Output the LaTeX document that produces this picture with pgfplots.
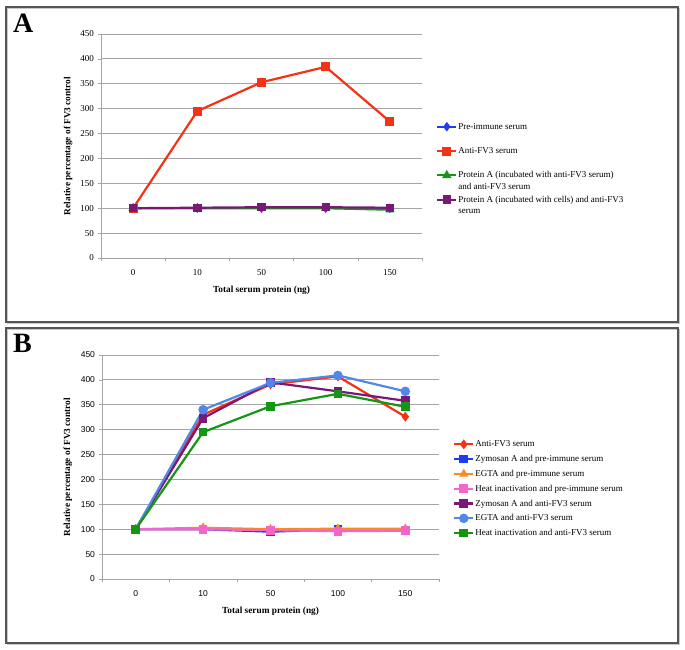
\documentclass[border=0pt]{standalone}
\usepackage{fontspec}
\setmainfont{Liberation Serif}
\newfontfamily\sansf{Liberation Sans}
\usepackage{pgfplots}
\pgfplotsset{compat=1.18}

\definecolor{frame}{RGB}{85,85,85}
\definecolor{shadow}{RGB}{200,200,200}
\definecolor{gridgray}{RGB}{165,165,165}
\definecolor{cRed}{RGB}{245,50,20}
\definecolor{cBlue}{RGB}{30,60,245}
\definecolor{cGreen}{RGB}{20,150,20}
\definecolor{cPurple}{RGB}{120,25,120}
\definecolor{cOrange}{RGB}{250,140,30}
\definecolor{cPink}{RGB}{245,100,200}
\definecolor{cLBlue}{RGB}{80,135,235}

\pgfplotsset{
  panel/.style={
    scale only axis,
    xmin=-0.5, xmax=4.5, ymin=0, ymax=450,
    xtick={-0.5,0.5,1.5,2.5,3.5,4.5},
    x tick label as interval,
    xticklabels={0,10,50,100,150},
    ytick={0,50,...,450},
    axis x line*=bottom, axis y line*=left,
    axis line style={draw=gridgray, line width=0.8pt},
    tick align=outside,
    major tick length=3.5pt,
    tick style={gridgray, line width=0.6pt},
    ymajorgrids, grid style={gridgray, line width=0.8pt},
    /pgf/number format/assume math mode=true,
    xticklabel style={yshift=-4.5pt},
    label style={font=\fontsize{9.3}{10}\selectfont\bfseries},
    xlabel={Total serum protein (ng)},
    ylabel={Relative percentage of FV3 control},
    xlabel style={at={(axis description cs:0.5,-0.1429)}, anchor=center},
    legend image code/.code={\draw[mark repeat=2,mark phase=2,##1] plot coordinates {(0pt,2.5pt)(9.5pt,2.5pt)(19pt,2.5pt)};},
    every axis plot/.append style={line width=2.2pt, mark options={solid}},
  }
}

\begin{document}
\begin{tikzpicture}
\useasboundingbox (0,0) rectangle (685pt,650pt);
% frames
\draw[shadow, line width=1.5pt] (7.5pt,326.5pt) rectangle (679.5pt,641.5pt);
\draw[frame, line width=1.5pt] (6pt,328pt) rectangle (678pt,643pt);
\draw[shadow, line width=1.5pt] (7.5pt,5.5pt) rectangle (679.5pt,320.5pt);
\draw[frame, line width=1.5pt] (6pt,7pt) rectangle (678pt,322pt);
\node[anchor=base west, inner sep=0pt, font=\fontsize{28}{28}\selectfont\bfseries] at (13pt,617pt) {A};
\node[anchor=base west, inner sep=0pt, font=\fontsize{28}{28}\selectfont\bfseries] at (13pt,297pt) {B};

% panel A
\begin{axis}[panel,
  at={(101pt,392pt)}, anchor=south west,
  width=321pt, height=224pt,
  tick label style={font=\fontsize{9}{10}\selectfont},
  ylabel style={at={(axis description cs:-0.1028,0.5)}, anchor=center},
  legend style={at={(1.0436,0.607)}, anchor=north west, draw=none, fill=none,
    inner sep=0pt, row sep=2.3pt,
    cells={anchor=base west},
    nodes={inner sep=0pt, inner xsep=1pt, text height=7pt, text depth=15pt,
      font=\fontsize{9}{11.3}\selectfont}},
]
\addplot[color=cBlue, mark=diamond*, mark size=3pt] coordinates {(0,100)(1,100)(2,100)(3,100)(4,100)};
\addlegendentry{\parbox[t]{190pt}{Pre-immune serum}}
\addplot[color=cRed, mark=square*, mark size=3.4pt] coordinates {(0,100)(1,295)(2,353)(3,384)(4,274)};
\addlegendentry{\parbox[t]{190pt}{Anti-FV3 serum}}
\addplot[color=cGreen, mark=triangle*, mark size=3.2pt] coordinates {(0,100)(1,100)(2,100)(3,100)(4,97)};
\addlegendentry{\parbox[t]{190pt}{Protein A (incubated with anti-FV3 serum)\\and anti-FV3 serum}}
\addplot[color=cPurple, mark=square*, mark size=3.1pt] coordinates {(0,100)(1,101)(2,102)(3,102)(4,101)};
\addlegendentry{\parbox[t]{190pt}{Protein A (incubated with cells) and anti-FV3\\serum}}
\end{axis}

% panel B
\begin{axis}[panel,
  at={(102pt,71pt)}, anchor=south west,
  width=337pt, height=224pt,
  tick label style={font=\sansf\fontsize{8.5}{10}\selectfont},
  ylabel style={at={(axis description cs:-0.1009,0.5)}, anchor=center},
  legend style={at={(1.0415,0.622)}, anchor=north west, draw=none, fill=none,
    inner sep=0pt, row sep=5.3pt,
    cells={anchor=base west},
    nodes={inner sep=0pt, inner xsep=1pt, text height=7pt, text depth=2.5pt,
      font=\fontsize{9}{11}\selectfont}},
]
\addplot[color=cRed, mark=diamond*, mark size=3.2pt] coordinates {(0,100)(1,330)(2,391)(3,407)(4,326)};
\addlegendentry{Anti-FV3 serum}
\addplot[color=cBlue, mark=square*, mark size=3.2pt] coordinates {(0,100)(1,100)(2,95)(3,100)(4,98)};
\addlegendentry{Zymosan A and pre-immune serum}
\addplot[color=cOrange, mark=triangle*, mark size=3.2pt] coordinates {(0,100)(1,103)(2,100)(3,101)(4,101)};
\addlegendentry{EGTA and pre-immune serum}
\addplot[color=cPink, mark=square*, mark size=3.2pt] coordinates {(0,100)(1,100)(2,98)(3,96)(4,97)};
\addlegendentry{Heat inactivation and pre-immune serum}
\addplot[color=cPurple, mark=square*, mark size=3.2pt] coordinates {(0,100)(1,323)(2,395)(3,377)(4,358)};
\addlegendentry{Zymosan A and anti-FV3 serum}
\addplot[color=cLBlue, mark=*, mark size=3.6pt] coordinates {(0,100)(1,340)(2,394)(3,409)(4,377)};
\addlegendentry{EGTA and anti-FV3 serum}
\addplot[color=cGreen, mark=square*, mark size=3.2pt] coordinates {(0,100)(1,295)(2,347)(3,372)(4,346)};
\addlegendentry{Heat inactivation and anti-FV3 serum}
\end{axis}
\end{tikzpicture}
\end{document}
